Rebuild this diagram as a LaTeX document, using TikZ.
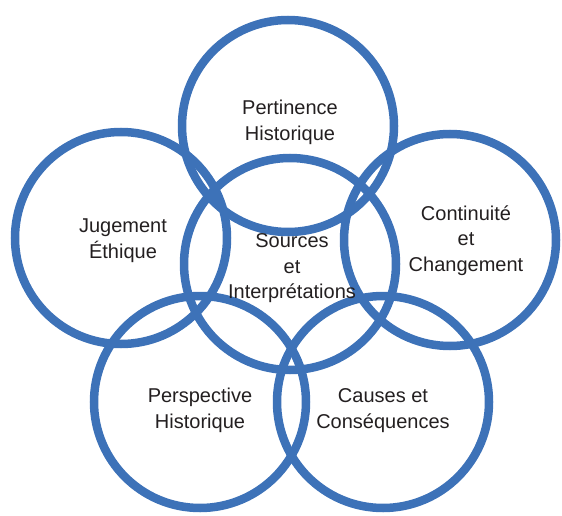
\documentclass[tikz,border=0pt]{standalone}
\usepackage{fontspec}
\setmainfont{Liberation Sans}
\definecolor{ringblue}{HTML}{3D72B8}
\definecolor{topicgray}{HTML}{231F20}

\begin{document}
\begin{tikzpicture}[x=1pt,y=-1pt]
	 \tikzstyle{ring}=[circle,draw=ringblue,line width=8.5pt,inner sep=0pt,minimum size=212pt]
	 \tikzstyle{topic}=[align=center,text=topicgray,font=\fontsize{20}{25.5}\selectfont]
	 \useasboundingbox (0,0) rectangle (562,516);
	 \node[ring] (pertinence) at (288,126) {};
	 \node[ring] (jugement) at (121,238) {};
	 \node[ring] (continuite) at (450,240) {};
	 \node[ring] (sources) at (290,264) {};
	 \node[ring] (perspective) at (200,402) {};
	 \node[ring] (causes) at (383,402) {};
	 \node[topic] (t-pertinence) at (290,122.5) {Pertinence\\Historique};
	 \node[topic] (t-jugement) at (123,240.5) {Jugement\\Éthique};
	 \node[topic] (t-continuite) at (466,240.5) {Continuité\\et\\Changement};
	 \node[topic] (t-sources) at (292,268.5) {Sources\\et\\Interprétations};
	 \node[topic] (t-perspective) at (200,410.5) {Perspective\\Historique};
	 \node[topic] (t-causes) at (383,410.5) {Causes et\\Conséquences};
\end{tikzpicture}
\end{document}
